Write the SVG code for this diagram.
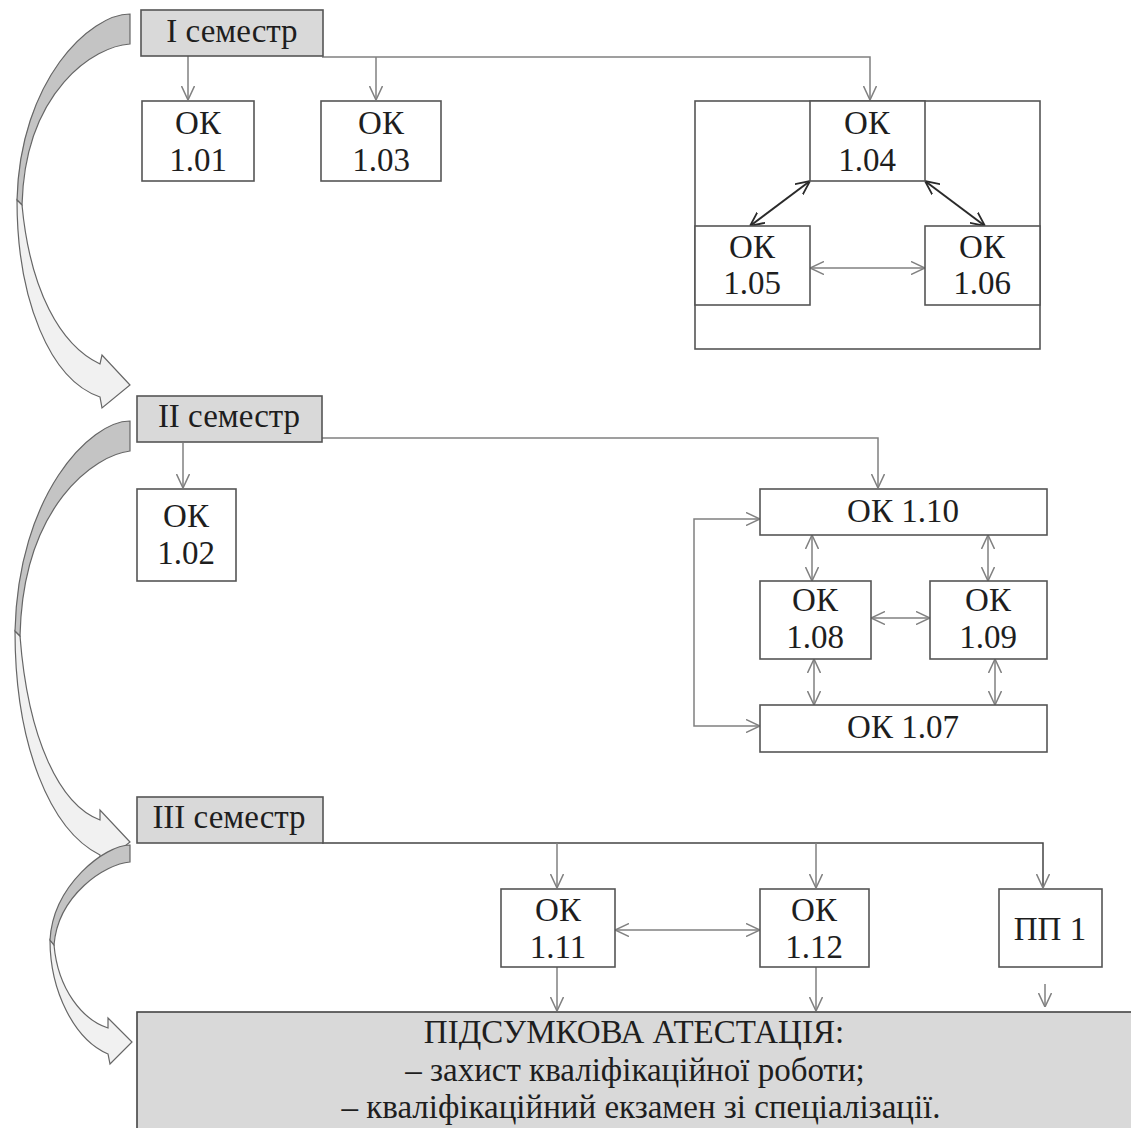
<svg xmlns="http://www.w3.org/2000/svg" width="1131" height="1128" viewBox="0 0 1131 1128">
<style>
text{font-family:"Liberation Serif","Times New Roman",serif;font-size:33px;fill:#1e1e1e;text-anchor:middle}
.node{fill:#fff;stroke:#555;stroke-width:1.6}
.sem{fill:#d9d9d9;stroke:#555;stroke-width:1.6}
.cn{fill:none;stroke:#808080;stroke-width:1.5}
.cd{fill:none;stroke:#2a2a2a;stroke-width:2}
.back{fill:#c4c4c4;stroke:#666;stroke-width:1.2}
.front{fill:#f1f1f1;stroke:#666;stroke-width:1.2}
</style>
<defs>
<marker id="ag" viewBox="0 0 14 14" refX="14" refY="7" markerWidth="14" markerHeight="14" markerUnits="userSpaceOnUse" orient="auto-start-reverse">
<path d="M0,0.5 L14,7 L0,13.5" fill="none" stroke="#808080" stroke-width="1.5"/>
</marker>
<marker id="ad" viewBox="0 0 14 14" refX="14" refY="7" markerWidth="14" markerHeight="14" markerUnits="userSpaceOnUse" orient="auto-start-reverse">
<path d="M0,0.5 L14,7 L0,13.5" fill="none" stroke="#2a2a2a" stroke-width="1.8"/>
</marker>
</defs>

<g id="flow-arrows">
<path class="back" d="M130,14 C90,14 20,80 17,200 L22,205 C25,90 95,46 130,44 Z"/>
<path class="front" d="M17,200 C17,300 50,380 100,397 L102,408 L130,385 L102,355 L100,364 C60,345 30,290 22,205 Z"/>
<path class="front" d="M15,631 C15,745 50,830 100,855 L100,866 L130,842 L100,810 L100,820 C60,805 28,740 20,636 Z"/>
<path class="back" d="M130,421 C90,421 18,495 15,631 L20,636 C23,505 95,455 130,451 Z"/>
<path class="front" d="M50,940 C50,992 75,1040 108,1054 L110,1064 L132,1042 L108,1018 L108,1028 C83,1020 58,990 54,945 Z"/>
<path class="back" d="M130,845 C105,845 53,885 50,940 L54,945 C58,895 105,864 130,862 Z"/>
</g>

<g id="connectors">
<path class="cn" d="M322,57 H870 V100" marker-end="url(#ag)"/>
<path class="cn" d="M188,56 V100" marker-end="url(#ag)"/>
<path class="cn" d="M376,57 V100" marker-end="url(#ag)"/>
<path class="cd" d="M750,226 L810,181" marker-start="url(#ad)" marker-end="url(#ad)"/>
<path class="cd" d="M925,181 L985,226" marker-start="url(#ad)" marker-end="url(#ad)"/>
<path class="cn" d="M810,268 H925" marker-start="url(#ag)" marker-end="url(#ag)"/>
<path class="cn" d="M322,438 H878 V488" marker-end="url(#ag)"/>
<path class="cn" d="M183,443 V488" marker-end="url(#ag)"/>
<path class="cn" d="M760,519 H694 V726 H760" marker-start="url(#ag)" marker-end="url(#ag)"/>
<path class="cn" d="M812,535 V581" marker-start="url(#ag)" marker-end="url(#ag)"/>
<path class="cn" d="M988,535 V581" marker-start="url(#ag)" marker-end="url(#ag)"/>
<path class="cn" d="M871,618 H930" marker-start="url(#ag)" marker-end="url(#ag)"/>
<path class="cn" d="M814,659 V705" marker-start="url(#ag)" marker-end="url(#ag)"/>
<path class="cn" d="M995,659 V705" marker-start="url(#ag)" marker-end="url(#ag)"/>
<path class="cn" d="M322,843 H1043 V888" marker-end="url(#ag)" style="stroke:#444"/>
<path class="cn" d="M557,843 V888" marker-end="url(#ag)"/>
<path class="cn" d="M816,843 V888" marker-end="url(#ag)"/>
<path class="cn" d="M615,930 H760" marker-start="url(#ag)" marker-end="url(#ag)"/>
<path class="cn" d="M557,967 V1011" marker-end="url(#ag)"/>
<path class="cn" d="M816,967 V1011" marker-end="url(#ag)"/>
<path class="cn" d="M1045,984 V1007" marker-end="url(#ag)"/>
</g>

<g id="sem1"><rect class="sem" x="141" y="10" width="182" height="46"/><text x="232" y="42">I семестр</text></g>
<g id="ok101"><rect class="node" x="142" y="101" width="112" height="80"/><text x="198" y="134">ОК</text><text x="198" y="171">1.01</text></g>
<g id="ok103"><rect class="node" x="321" y="101" width="120" height="80"/><text x="381" y="134">ОК</text><text x="381" y="171">1.03</text></g>
<g id="group104"><rect x="695" y="101" width="345" height="248" fill="none" stroke="#555" stroke-width="1.6"/></g>
<g id="ok104"><rect class="node" x="810" y="101" width="115" height="80"/><text x="867" y="134">ОК</text><text x="867" y="171">1.04</text></g>
<g id="ok105"><rect class="node" x="695" y="226" width="115" height="79"/><text x="752" y="258">ОК</text><text x="752" y="294">1.05</text></g>
<g id="ok106"><rect class="node" x="925" y="226" width="115" height="79"/><text x="982" y="258">ОК</text><text x="982" y="294">1.06</text></g>

<g id="sem2"><rect class="sem" x="137" y="396" width="185" height="46"/><text x="229" y="427">II семестр</text></g>
<g id="ok102"><rect class="node" x="137" y="489" width="99" height="92"/><text x="186" y="527">ОК</text><text x="186" y="564">1.02</text></g>
<g id="ok110"><rect class="node" x="760" y="489" width="287" height="46"/><text x="903" y="522">ОК 1.10</text></g>
<g id="ok108"><rect class="node" x="760" y="581" width="111" height="78"/><text x="815" y="611">ОК</text><text x="815" y="648">1.08</text></g>
<g id="ok109"><rect class="node" x="930" y="581" width="117" height="78"/><text x="988" y="611">ОК</text><text x="988" y="648">1.09</text></g>
<g id="ok107"><rect class="node" x="760" y="705" width="287" height="47"/><text x="903" y="738">ОК 1.07</text></g>

<g id="sem3"><rect class="sem" x="137" y="797" width="186" height="46"/><text x="229" y="828">III семестр</text></g>
<g id="ok111"><rect class="node" x="501" y="889" width="114" height="78"/><text x="558" y="921">ОК</text><text x="558" y="958">1.11</text></g>
<g id="ok112"><rect class="node" x="760" y="889" width="109" height="78"/><text x="814" y="921">ОК</text><text x="814" y="958">1.12</text></g>
<g id="pp1"><rect class="node" x="999" y="889" width="103" height="78"/><text x="1050" y="940">ПП 1</text></g>

<g id="final"><rect x="137" y="1012" width="1000" height="120" fill="#d9d9d9" stroke="#444" stroke-width="1.6"/>
<text x="634" y="1043">ПІДСУМКОВА АТЕСТАЦІЯ:</text>
<text x="635" y="1081">– захист кваліфікаційної роботи;</text>
<text x="641" y="1118">– кваліфікаційний екзамен зі спеціалізації.</text>
</g>
</svg>
